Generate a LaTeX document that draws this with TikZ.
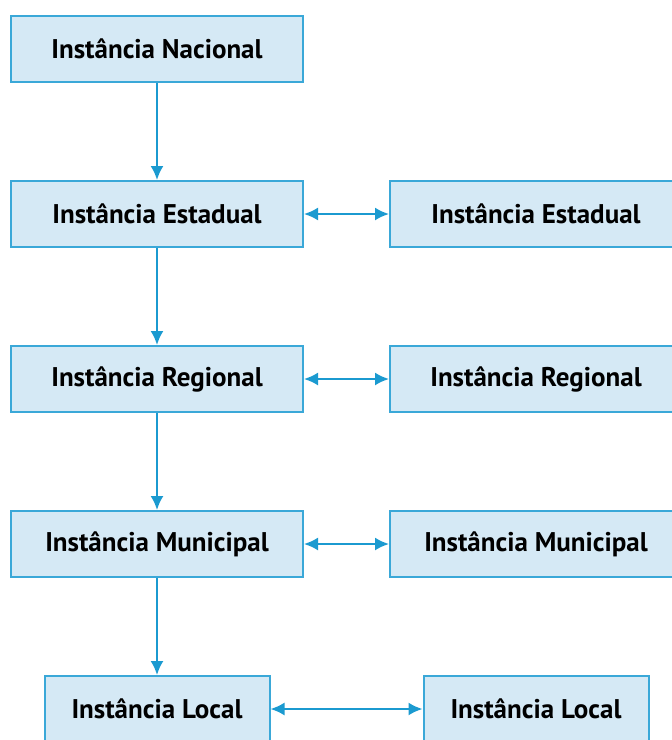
\documentclass[tikz,border=0pt]{standalone}
\usepackage{fontspec}
\setmainfont{PT Sans}
\usetikzlibrary{positioning}
\usetikzlibrary{arrows.meta}
\definecolor{boxfill}{HTML}{D5E9F5}
\definecolor{boxline}{HTML}{3AA8D8}
\definecolor{arrowblue}{HTML}{1B9AD0}

\begin{document}
\begin{tikzpicture}[x=0.5pt,y=-0.5pt,
                    inst/.style={draw=boxline,fill=boxfill,line width=1pt,
                                 minimum width=146pt,minimum height=33pt,
                                 font=\bfseries\fontsize{13.5}{16}\selectfont},
                    instsmall/.style={inst,minimum width=112.5pt},
                    link/.style={arrowblue,line width=1pt,
                                 -{Latex[length=7pt,width=6.5pt]}},
                    twoway/.style={link,{Latex[length=7pt,width=6.5pt]}-{Latex[length=7pt,width=6.5pt]}}]
 \clip (0,0) rectangle (672,740);
 % left column
 \node[inst] (nac) at (157,49) {Instância Nacional};
 \node[inst,below=48.5pt of nac] (estL) {Instância Estadual};
 \node[inst,below=48.5pt of estL] (regL) {Instância Regional};
 \node[inst,below=48.5pt of regL] (munL) {Instância Municipal};
 \node[instsmall,below=48.5pt of munL] (locL) {Instância Local};
 % right column
 \node[inst,right=42.5pt of estL] (estR) {Instância Estadual};
 \node[inst,right=42.5pt of regL] (regR) {Instância Regional};
 \node[inst,right=42.5pt of munL] (munR) {Instância Municipal};
 \node[instsmall,below=48.5pt of munR] (locR) {Instância Local};
 % connectors
 \draw[link] (nac) -- (estL);
 \draw[link] (estL) -- (regL);
 \draw[link] (regL) -- (munL);
 \draw[link] (munL) -- (locL);
 \draw[twoway] (estL) -- (estR);
 \draw[twoway] (regL) -- (regR);
 \draw[twoway] (munL) -- (munR);
 \draw[twoway] (locL) -- (locR);
\end{tikzpicture}
\end{document}
